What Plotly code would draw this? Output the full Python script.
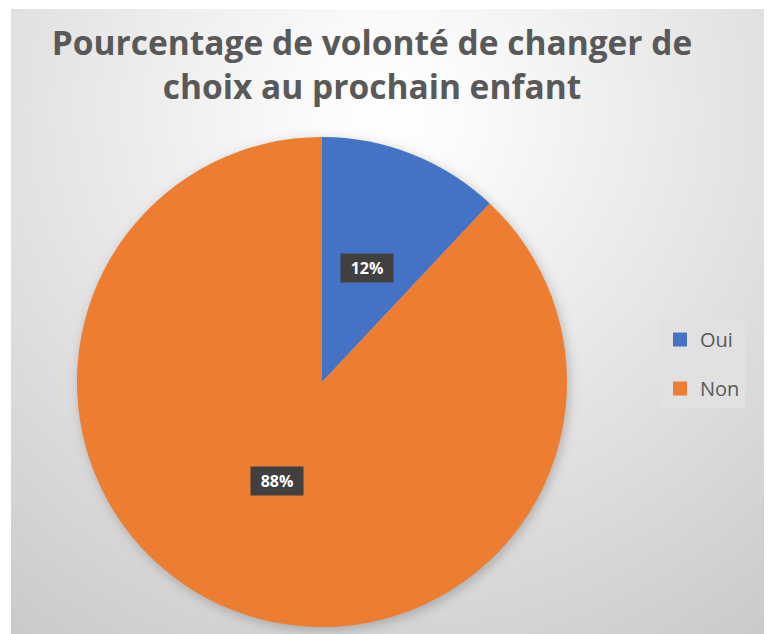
import base64
import math

import plotly.graph_objects as go

W, H = 772, 634
OFF = 8  # the page body margin shifts the figure by 8px

# data
labels = ["Oui", "Non"]
values = [12, 88]
colors = ["#4472C4", "#ED7D31"]
title_text = "Pourcentage de volonté de changer de<br>choix au prochain enfant"


def px_x(x):
    # screen pixel -> paper fraction
    return (x - OFF) / W


def px_y(y):
    return 1 - (y - OFF) / H


# pie placement (paper fractions)
dom_x = [px_x(77), px_x(567)]
dom_y = [px_y(627), px_y(137)]

# frame of the chart area (white strip at left/top like the source image)
frame_x0, frame_y0 = 11, 9
fw, fh = W - (frame_x0 - OFF), H - (frame_y0 - OFF)

# pie centre / radius in the background's own pixels, for a soft shadow
pie_cx = 322 - frame_x0
pie_cy = 382 - frame_y0
pie_r = 245

# radial grey background, white near the title
svg = f'''<svg xmlns="http://www.w3.org/2000/svg" width="{fw}" height="{fh}" viewBox="0 0 {fw} {fh}">
<defs>
<radialGradient id="g" gradientUnits="userSpaceOnUse" cx="{fw * 0.49}" cy="{fh * 0.16}" r="{fw * 0.85}">
<stop offset="0" stop-color="#ffffff"/>
<stop offset="0.12" stop-color="#fbfbfb"/>
<stop offset="0.55" stop-color="#e3e3e3"/>
<stop offset="1" stop-color="#c9c9c9"/>
</radialGradient>
<filter id="blur" x="-20%" y="-20%" width="140%" height="140%">
<feGaussianBlur stdDeviation="6"/>
</filter>
</defs>
<rect x="0" y="0" width="{fw}" height="{fh}" fill="url(#g)"/>
<circle cx="{pie_cx + 2}" cy="{pie_cy + 3}" r="{pie_r}" fill="#000" fill-opacity="0.22" filter="url(#blur)"/>
</svg>'''
bg_src = "data:image/svg+xml;base64," + base64.b64encode(svg.encode()).decode()

fig = go.Figure()

fig.add_trace(go.Pie(
    labels=labels,
    values=values,
    marker=dict(colors=colors, line=dict(width=0)),
    sort=False,
    direction="clockwise",
    rotation=0,
    textinfo="none",
    hoverinfo="label+percent",
    showlegend=False,
    domain=dict(x=dom_x, y=dom_y),
))

# legend entries as square markers so the spacing can be controlled
for lab, col in zip(labels, colors):
    fig.add_trace(go.Scatter(
        x=[None], y=[None],
        mode="markers",
        name=lab,
        legendgroup=lab,
        marker=dict(symbol="square", size=14, color=col),
    ))

# data labels in dark boxes, placed at the middle of each slice
cx = (dom_x[0] + dom_x[1]) / 2
cy = (dom_y[0] + dom_y[1]) / 2
r_px = min((dom_x[1] - dom_x[0]) * W, (dom_y[1] - dom_y[0]) * H) / 2
total = sum(values)
cum = 0
for v in values:
    a = 2 * math.pi * (cum + v / 2) / total
    cum += v
    fig.add_annotation(
        x=cx + 0.5 * r_px * math.sin(a) / W,
        y=cy + 0.5 * r_px * math.cos(a) / H,
        xref="paper", yref="paper",
        text=f"<b>{round(100 * v / total)}%</b>",
        showarrow=False,
        font=dict(family="Open Sans", size=16, color="white"),
        bgcolor="#404040",
        width=50, height=26,
    )

fig.update_layout(
    width=W, height=H,
    margin=dict(l=0, r=0, t=0, b=0),
    paper_bgcolor="white",
    plot_bgcolor="rgba(0,0,0,0)",
    xaxis=dict(visible=False),
    yaxis=dict(visible=False),
    title=dict(
        text=title_text,
        x=px_x(372), xanchor="center",
        y=px_y(55), yanchor="top",
        font=dict(family="Open Sans", size=33.5, color="#595959", weight="bold"),
    ),
    legend=dict(
        x=px_x(660), xanchor="left",
        y=px_y(320), yanchor="top",
        bgcolor="#e1e1e1",
        borderwidth=0,
        tracegroupgap=20,
        font=dict(family="Open Sans", size=20, color="#595959"),
    ),
    images=[dict(
        source=bg_src,
        xref="paper", yref="paper",
        x=px_x(frame_x0), y=px_y(frame_y0),
        sizex=fw / W, sizey=fh / H,
        xanchor="left", yanchor="top",
        sizing="stretch",
        layer="below",
    )],
)

fig.write_html("out.html")
